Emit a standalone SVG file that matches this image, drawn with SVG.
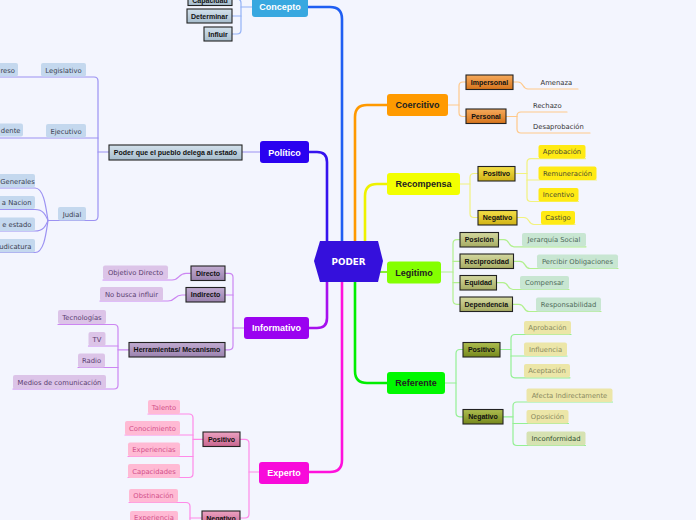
<svg xmlns="http://www.w3.org/2000/svg" width="696" height="520" viewBox="0 0 696 520">
<defs>
<linearGradient id="gBlue" x1="0" y1="0" x2="0" y2="1"><stop offset="0" stop-color="#d3e1ec"/><stop offset="1" stop-color="#a7bdcd"/></linearGradient>
<linearGradient id="gPurple" x1="0" y1="0" x2="0" y2="1"><stop offset="0" stop-color="#c2acd2"/><stop offset="1" stop-color="#9a82ae"/></linearGradient>
<linearGradient id="gPink" x1="0" y1="0" x2="0" y2="1"><stop offset="0" stop-color="#eca2c2"/><stop offset="1" stop-color="#c8668e"/></linearGradient>
<linearGradient id="gOrange" x1="0" y1="0" x2="0" y2="1"><stop offset="0" stop-color="#f6aa5c"/><stop offset="1" stop-color="#d6741c"/></linearGradient>
<linearGradient id="gYellow" x1="0" y1="0" x2="0" y2="1"><stop offset="0" stop-color="#f4e048"/><stop offset="1" stop-color="#d0b216"/></linearGradient>
<linearGradient id="gOlive" x1="0" y1="0" x2="0" y2="1"><stop offset="0" stop-color="#d4d8a0"/><stop offset="1" stop-color="#a6ab62"/></linearGradient>
<linearGradient id="gGreen" x1="0" y1="0" x2="0" y2="1"><stop offset="0" stop-color="#aebe50"/><stop offset="1" stop-color="#76881c"/></linearGradient>
</defs>
<style>
.mt{font-family:"Liberation Sans",Arial,sans-serif;font-weight:bold;font-size:9px;text-anchor:middle}
.cb{stroke:#222;stroke-width:1.1}
.ct{font-family:"Liberation Sans",Arial,sans-serif;font-weight:bold;font-size:7px;text-anchor:middle;fill:#111}
.lt{font-family:"DejaVu Sans",Verdana,sans-serif;font-size:6.8px;text-anchor:middle}
.le{font-family:"DejaVu Sans",Verdana,sans-serif;font-size:6.8px;text-anchor:end}
.ls{font-family:"DejaVu Sans",Verdana,sans-serif;font-size:6.8px;fill:#333}
.c{fill:none;stroke-linecap:round;stroke-linejoin:round}
.m{stroke-width:2.6}
.s{stroke-width:1.2}
</style>
<rect x="0" y="0" width="696" height="520" fill="#f3f5fe"/>

<g id="connectors">
<path class="c m" stroke="#1f5ef2" d="M308,7 H330 Q342,7 342,19 V243"/>
<path class="c m" stroke="#3512ee" d="M309,152 H317 Q327,152 327,162 V243"/>
<path class="c m" stroke="#ff9900" d="M387,105 H367 Q355,105 355,117 V243"/>
<path class="c m" stroke="#eef200" d="M387,184 H377 Q365,184 365,196 V243"/>
<path class="c" stroke="#88ee33" stroke-width="2" d="M378,272 H387"/>
<path class="c m" stroke="#a610ee" d="M309,328 H317 Q327,328 327,318 V280"/>
<path class="c m" stroke="#ff10dc" d="M309,472 H330 Q342,472 342,460 V280"/>
<path class="c m" stroke="#00ee00" d="M387,383 H367 Q355,383 355,371 V280"/>

<g stroke="#93b2f6" class="c s">
<path d="M252,7 H241"/>
<path d="M232,-1 H237 Q241,-1 241,3 V30 Q241,34 237,34 H232"/>
<path d="M232,16 H241"/>
</g>
<g stroke="#9c92f2" class="c s">
<path d="M260,152 H242"/>
<path d="M109,152 H98"/>
<path d="M0,77 H94 Q98,77 98,81 V216 Q98,220.5 94,220.5 H48"/>
<path d="M0,138 H98"/>
<path d="M0,188 H35 C44,188 46,208 48,220.5"/>
<path d="M0,209.5 H35 C44,209.5 46,216 48,220.5"/>
<path d="M0,231 H35 C44,231 46,225 48,220.5"/>
<path d="M0,252.5 H35 C44,252.5 46,234 48,220.5"/>
</g>
<g stroke="#cc86f2" class="c s">
<path d="M244,328 H233"/>
<path d="M225,273.3 H229 Q233,273.3 233,277.3 V345.8 Q233,349.8 229,349.8 H225"/>
<path d="M225,295 H233"/>
<path d="M103,280 H172 C180,280 178,273.3 186,273.3 H191"/>
<path d="M100,301 H168 C176,301 174,295 182,295 H186"/>
<path d="M129,349.8 H118"/>
<path d="M58,324.5 H114 Q118,324.5 118,328.5 V385 Q118,389 114,389 H13"/>
<path d="M88.5,346 H118"/>
<path d="M78,367.5 H118"/>
</g>
<g stroke="#ff8ae8" class="c s">
<path d="M259,472 H249"/>
<path d="M240,439.3 H245 Q249,439.3 249,443.3 V514 Q249,518 245,518 H240"/>
<path d="M203,439.3 H193"/>
<path d="M148,414 H189 Q193,414 193,418 V473.5 Q193,477.5 189,477.5 H128"/>
<path d="M125,435 H193"/>
<path d="M128,456.5 H193"/>
<path d="M202,518 H190"/>
<path d="M129,502.5 H186 Q190,502.5 190,506.5 V524.5 H130"/>
</g>
<g stroke="#ffc98a" class="c s">
<path d="M448,105 H459"/>
<path d="M466,82 H463 Q459,82 459,86 V112.5 Q459,116.5 463,116.5 H466"/>
<path d="M513,82 H518 C524,82 522,89 528,89 H578"/>
<path d="M506,116.5 H517"/>
<path d="M567,112 H521 Q517,112 517,116 V129 Q517,133 521,133 H590"/>
</g>
<g stroke="#f2f27e" class="c s">
<path d="M460,184 H470"/>
<path d="M478,173.5 H474 Q470,173.5 470,177.5 V213.5 Q470,217.5 474,217.5 H478"/>
<path d="M515,173.5 H527"/>
<path d="M585.5,158.7 H531 Q527,158.7 527,162.7 V197.5 Q527,201.5 531,201.5 H578.5"/>
<path d="M527,180 H596.5"/>
<path d="M517,217.5 H524 C530,217.5 528,224.5 534,224.5 H575"/>
</g>
<g stroke="#b2f08e" class="c s">
<path d="M441,272 H453"/>
<path d="M460,239.7 H457 Q453,239.7 453,243.7 V300.3 Q453,304.3 457,304.3 H460"/>
<path d="M453,261.3 H460"/>
<path d="M453,282.7 H460"/>
<path d="M498.5,239.7 H504 C510,239.7 508,246.8 514,246.8 H586"/>
<path d="M513.5,261.3 H520 C526,261.3 524,268.5 530,268.5 H618"/>
<path d="M496.5,282.7 H503 C509,282.7 507,289.5 513,289.5 H569"/>
<path d="M512.5,304.3 H519 C525,304.3 523,311.5 529,311.5 H601"/>
</g>
<g stroke="#94f094" class="c s">
<path d="M445,383 H456"/>
<path d="M463,349.5 H460 Q456,349.5 456,353.5 V412.8 Q456,416.8 460,416.8 H463"/>
<path d="M500,349.5 H511"/>
<path d="M571,334.5 H515 Q511,334.5 511,338.5 V373.8 Q511,377.8 515,377.8 H570"/>
<path d="M511,356 H567"/>
<path d="M503,416.8 H513"/>
<path d="M612.5,402 H517 Q513,402 513,406 V441.5 Q513,445.5 517,445.5 H585.5"/>
<path d="M513,423.5 H568.5"/>
</g>
</g>

<g id="poder">
<polygon points="314,261 320,241 378,241 383,261 378,282 320,282" fill="#3510dc"/>
<text x="348.5" y="264.5" font-family="DejaVu Sans,Verdana,sans-serif" font-weight="bold" font-size="8.8" fill="#fff" text-anchor="middle">PODER</text>
</g>

<g id="concepto"><rect x="252" y="-5" width="56" height="22" rx="3" fill="#38a8e0"/><text class="mt" x="280" y="10" fill="#fff">Concepto</text></g>
<g id="politico"><rect x="260" y="141" width="49" height="22" rx="3" fill="#2a02f0"/><text class="mt" x="284.5" y="155.5" fill="#fff">Político</text></g>
<g id="informativo"><rect x="244" y="317" width="65" height="22" rx="3" fill="#9a02f0"/><text class="mt" x="276.5" y="331.3" fill="#fff">Informativo</text></g>
<g id="experto"><rect x="259" y="462" width="50" height="22" rx="3" fill="#f80ada"/><text class="mt" x="284" y="476.3" fill="#fff">Experto</text></g>
<g id="coercitivo"><rect x="387" y="94" width="61" height="22" rx="3" fill="#ff9a00"/><text class="mt" x="417.5" y="108.3" fill="#222">Coercitivo</text></g>
<g id="recompensa"><rect x="387" y="173" width="73" height="22" rx="3" fill="#f2ff00"/><text class="mt" x="423.5" y="187.3" fill="#222">Recompensa</text></g>
<g id="legitimo"><rect x="387" y="261.5" width="54" height="22" rx="3" fill="#84ff00"/><text class="mt" x="414" y="275.8" fill="#222">Legitimo</text></g>
<g id="referente"><rect x="387" y="372" width="58" height="22" rx="3" fill="#00f800"/><text class="mt" x="416" y="386.3" fill="#222">Referente</text></g>

<g id="capacidad"><rect class="cb" x="188" y="-8" width="44" height="13.5" fill="url(#gBlue)"/><text class="ct" x="210" y="2.5">Capacidad</text></g>
<g id="determinar"><rect class="cb" x="187" y="9" width="45" height="14" fill="url(#gBlue)"/><text class="ct" x="209.5" y="18.5">Determinar</text></g>
<g id="influir"><rect class="cb" x="204" y="27" width="28" height="14" fill="url(#gBlue)"/><text class="ct" x="218" y="36.5">Influir</text></g>

<g id="poder-pueblo"><rect class="cb" x="109" y="145" width="133" height="15" fill="url(#gBlue)"/><text class="ct" x="175.5" y="155">Poder que el pueblo delega al estado</text></g>
<g fill="#c4d8ee">
<g id="congreso"><rect x="-4" y="63" width="22" height="13.5" rx="2"/><text class="le" x="15" y="72.5" fill="#3a4050">reso</text></g>
<g id="legislativo"><rect x="41" y="63" width="45" height="13.5" rx="2"/><text class="lt" x="63.5" y="72.5" fill="#3a4050">Legislativo</text></g>
<g id="presidente"><rect x="-4" y="123.5" width="27" height="13" rx="2"/><text class="le" x="20.5" y="132.5" fill="#3a4050">dente</text></g>
<g id="ejecutivo"><rect x="46" y="124" width="40" height="13.5" rx="2"/><text class="lt" x="66" y="133.5" fill="#3a4050">Ejecutivo</text></g>
<g id="judial"><rect x="58" y="207" width="28" height="13.5" rx="2"/><text class="lt" x="72" y="216.5" fill="#3a4050">Judial</text></g>
<g id="generales"><rect x="-4" y="174" width="39" height="13.5" rx="2"/><text class="ls" x="0.3" y="183.5" fill="#3a4050" style="fill:#3a4050">Generales</text></g>
<g id="nacion"><rect x="-4" y="196" width="39" height="13" rx="2"/><text class="le" x="31.5" y="205.3" fill="#3a4050">a Nacion</text></g>
<g id="estado"><rect x="-4" y="217.5" width="39" height="13.5" rx="2"/><text class="le" x="31.5" y="227" fill="#3a4050">e estado</text></g>
<g id="judicatura"><rect x="-4" y="239" width="39" height="13.5" rx="2"/><text class="le" x="31.5" y="248.5" fill="#3a4050">udicatura</text></g>
</g>

<g id="directo"><rect class="cb" x="191" y="266" width="34" height="14.5" fill="url(#gPurple)"/><text class="ct" x="208" y="275.8">Directo</text></g>
<g id="indirecto"><rect class="cb" x="186" y="287.5" width="39" height="14.5" fill="url(#gPurple)"/><text class="ct" x="205.5" y="297.3">Indirecto</text></g>
<g id="herramientas"><rect class="cb" x="129" y="342.5" width="96" height="14.5" fill="url(#gPurple)"/><text class="ct" x="177" y="352.3">Herramientas/ Mecanismo</text></g>
<g fill="#dcc4e8">
<g id="objetivo"><rect x="103" y="265.5" width="65" height="14" rx="2"/><text class="lt" x="135.5" y="275" fill="#5a4070">Objetivo Directo</text></g>
<g id="nobusca"><rect x="100" y="287" width="63" height="14" rx="2"/><text class="lt" x="131.5" y="296.5" fill="#5a4070">No busca influir</text></g>
<g id="tecnologias"><rect x="58" y="310" width="48" height="14" rx="2"/><text class="lt" x="82" y="319.5" fill="#5a4070">Tecnologías</text></g>
<g id="tv"><rect x="88.5" y="332" width="17" height="14" rx="2"/><text class="lt" x="97" y="341.5" fill="#5a4070">TV</text></g>
<g id="radio"><rect x="78" y="353.5" width="27" height="14" rx="2"/><text class="lt" x="91.5" y="363" fill="#5a4070">Radio</text></g>
<g id="medios"><rect x="13" y="375" width="93" height="14" rx="2"/><text class="lt" x="59.5" y="384.5" fill="#5a4070">Medios de comunicación</text></g>
</g>

<g id="exp-positivo"><rect class="cb" x="203" y="432" width="37" height="14.5" fill="url(#gPink)"/><text class="ct" x="221.5" y="441.8">Positivo</text></g>
<g id="exp-negativo"><rect class="cb" x="202" y="511" width="38" height="14.5" fill="url(#gPink)"/><text class="ct" x="221" y="520.8">Negativo</text></g>
<g fill="#ffbad4">
<g id="talento"><rect x="148" y="400" width="32" height="14" rx="2"/><text class="lt" x="164" y="409.5" fill="#d2508a">Talento</text></g>
<g id="conocimiento"><rect x="125" y="421" width="55" height="14" rx="2"/><text class="lt" x="152.5" y="430.5" fill="#d2508a">Conocimiento</text></g>
<g id="experiencias"><rect x="128" y="442.5" width="52" height="14" rx="2"/><text class="lt" x="154" y="452" fill="#d2508a">Experiencias</text></g>
<g id="capacidades"><rect x="128" y="464" width="52" height="14" rx="2"/><text class="lt" x="154" y="473.5" fill="#d2508a">Capacidades</text></g>
<g id="obstinacion"><rect x="129" y="489" width="49" height="13.5" rx="2"/><text class="lt" x="153.5" y="498.3" fill="#d2508a">Obstinación</text></g>
<g id="experiencia"><rect x="130" y="511" width="48" height="13.5" rx="2"/><text class="lt" x="154" y="520.3" fill="#d2508a">Experiencia</text></g>
</g>

<g id="impersonal"><rect class="cb" x="466" y="75" width="47" height="14.5" fill="url(#gOrange)"/><text class="ct" x="489.5" y="84.8">Impersonal</text></g>
<g id="personal"><rect class="cb" x="466" y="109" width="40" height="14.5" fill="url(#gOrange)"/><text class="ct" x="486" y="118.8">Personal</text></g>
<g id="amenaza"><text class="ls" x="540.5" y="85">Amenaza</text></g>
<g id="rechazo"><text class="ls" x="533" y="107.8">Rechazo</text></g>
<g id="desaprobacion"><text class="ls" x="533" y="128.8">Desaprobación</text></g>

<g id="rec-positivo"><rect class="cb" x="478" y="166.5" width="37" height="14.5" fill="url(#gYellow)"/><text class="ct" x="496.5" y="176.3">Positivo</text></g>
<g id="rec-negativo"><rect class="cb" x="478" y="210.5" width="39" height="14.5" fill="url(#gYellow)"/><text class="ct" x="497.5" y="220.3">Negativo</text></g>
<g fill="#ffea14">
<g id="rec-aprobacion"><rect x="538.5" y="145" width="47" height="13.5" rx="2"/><text class="lt" x="562" y="154.3" fill="#4a4a30">Aprobación</text></g>
<g id="remuneracion"><rect x="538.5" y="166.5" width="58" height="13.5" rx="2"/><text class="lt" x="567.5" y="175.8" fill="#4a4a30">Remuneración</text></g>
<g id="incentivo"><rect x="538.5" y="188" width="40" height="13.5" rx="2"/><text class="lt" x="558.5" y="197.3" fill="#4a4a30">Incentivo</text></g>
<g id="castigo"><rect x="541" y="211" width="34" height="13.5" rx="2"/><text class="lt" x="558" y="220.3" fill="#4a4a30">Castigo</text></g>
</g>

<g id="posicion"><rect class="cb" x="460" y="232.5" width="38.5" height="14.5" fill="url(#gOlive)"/><text class="ct" x="479.3" y="242.3">Posición</text></g>
<g id="reciprocidad"><rect class="cb" x="460" y="254" width="53.5" height="14.5" fill="url(#gOlive)"/><text class="ct" x="486.8" y="263.8">Reciprocidad</text></g>
<g id="equidad"><rect class="cb" x="460" y="275.5" width="36.5" height="14.5" fill="url(#gOlive)"/><text class="ct" x="478.3" y="285.3">Equidad</text></g>
<g id="dependencia"><rect class="cb" x="460" y="297" width="52.5" height="14.5" fill="url(#gOlive)"/><text class="ct" x="486.3" y="306.8">Dependencia</text></g>
<g fill="#c8e6d2">
<g id="jerarquia"><rect x="522" y="233" width="64" height="13.5" rx="2"/><text class="lt" x="554" y="242.3" fill="#4f6b5a">Jerarquía Social</text></g>
<g id="percibir"><rect x="537" y="254.5" width="81" height="14" rx="2"/><text class="lt" x="577.5" y="264" fill="#4f6b5a">Percibir Obligaciones</text></g>
<g id="compensar"><rect x="520" y="276" width="49" height="13.5" rx="2"/><text class="lt" x="544.5" y="285.3" fill="#4f6b5a">Compensar</text></g>
<g id="responsabilidad"><rect x="536" y="297.5" width="65" height="14" rx="2"/><text class="lt" x="568.5" y="307" fill="#4f6b5a">Responsabilidad</text></g>
</g>

<g id="ref-positivo"><rect class="cb" x="463" y="342.5" width="37" height="14.5" fill="url(#gGreen)"/><text class="ct" x="481.5" y="352.3">Positivo</text></g>
<g id="ref-negativo"><rect class="cb" x="463" y="409.5" width="40" height="14.5" fill="url(#gGreen)"/><text class="ct" x="483" y="419.3">Negativo</text></g>
<g fill="#ece6a8">
<g id="ref-aprobacion"><rect x="524" y="321" width="47" height="13.5" rx="2"/><text class="lt" x="547.5" y="330.3" fill="#8a8a60">Aprobación</text></g>
<g id="influencia"><rect x="524" y="342.5" width="43" height="13.5" rx="2"/><text class="lt" x="545.5" y="351.8" fill="#8a8a60">Influencia</text></g>
<g id="aceptacion"><rect x="524" y="364" width="46" height="13.5" rx="2"/><text class="lt" x="547" y="373.3" fill="#8a8a60">Aceptación</text></g>
<g id="afecta"><rect x="526.5" y="388.5" width="86" height="13.5" rx="2"/><text class="lt" x="569.5" y="397.8" fill="#8a8a60">Afecta Indirectamente</text></g>
<g id="oposicion"><rect x="526.5" y="410" width="42" height="13.5" rx="2"/><text class="lt" x="547.5" y="419.3" fill="#8a8a60">Oposición</text></g>
<g id="inconformidad"><rect x="526.5" y="431.5" width="59" height="14" rx="2" fill="#d6e2b2"/><text class="lt" x="556" y="441" fill="#2f4f2f">Inconformidad</text></g>
</g>
</svg>
